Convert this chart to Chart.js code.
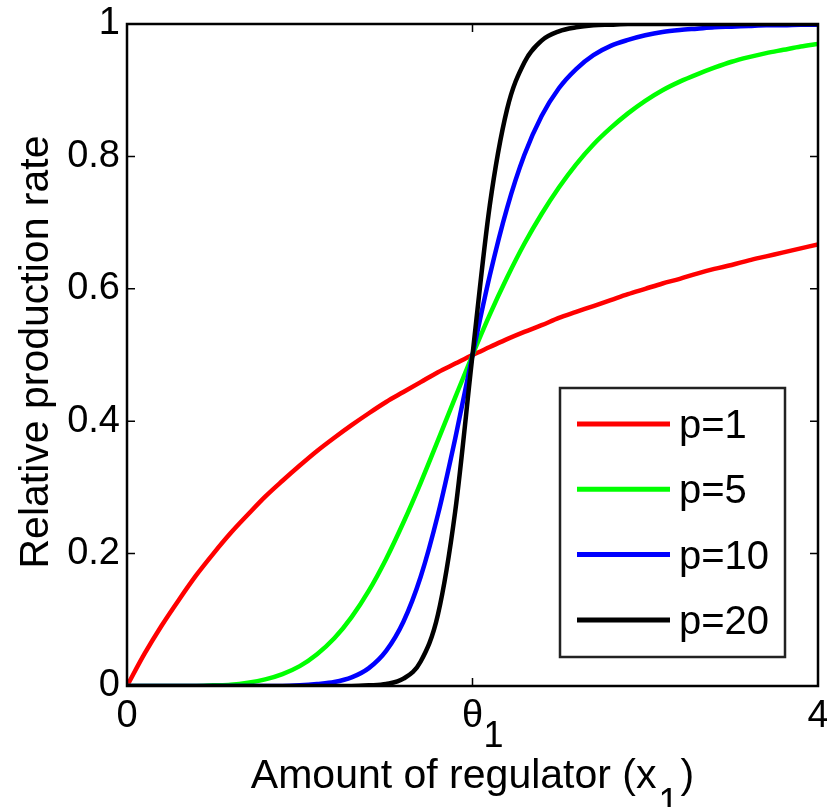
<!DOCTYPE html>
<html>
<head>
<meta charset="utf-8">
<script src="https://cdn.jsdelivr.net/npm/chart.js@4.4.1/dist/chart.umd.min.js"></script>
<style>
  html, body { margin: 0; padding: 0; background: #fff; }
  #wrap { width: 827px; height: 807px; }
</style>
</head>
<body>
<div id="wrap"><canvas id="hill-chart" width="827" height="807"></canvas></div>
<script>
// amount of regulator, theta_1 = 2
var xValues = [0, 0.1, 0.2, 0.3, 0.4, 0.5, 0.6, 0.7, 0.8, 0.9,
               1.0, 1.1, 1.2, 1.3, 1.4, 1.5, 1.6, 1.7, 1.8, 1.9,
               2.0, 2.1, 2.2, 2.3, 2.4, 2.5, 2.6, 2.7, 2.8, 2.9,
               3.0, 3.1, 3.2, 3.3, 3.4, 3.5, 3.6, 3.7, 3.8, 3.9, 4.0];

var p1Values = [0, 0.048, 0.091, 0.130, 0.167, 0.200, 0.231, 0.259, 0.286, 0.310,
                0.333, 0.355, 0.375, 0.394, 0.412, 0.429, 0.444, 0.459, 0.474, 0.487,
                0.500, 0.512, 0.524, 0.535, 0.545, 0.556, 0.565, 0.574, 0.583, 0.592,
                0.600, 0.608, 0.615, 0.623, 0.630, 0.636, 0.643, 0.649, 0.655, 0.661, 0.667];

var p5Values = [0, 0, 0, 0, 0, 0.001, 0.002, 0.005, 0.010, 0.018,
                0.030, 0.048, 0.072, 0.104, 0.144, 0.192, 0.247, 0.307, 0.371, 0.436,
                0.500, 0.561, 0.617, 0.668, 0.713, 0.753, 0.788, 0.818, 0.843, 0.865,
                0.884, 0.900, 0.913, 0.924, 0.934, 0.943, 0.950, 0.956, 0.961, 0.966, 0.970];

var p10Values = [0, 0, 0, 0, 0, 0, 0, 0, 0, 0,
                 0.001, 0.003, 0.006, 0.013, 0.027, 0.053, 0.097, 0.165, 0.259, 0.374,
                 0.500, 0.620, 0.722, 0.802, 0.861, 0.903, 0.932, 0.953, 0.967, 0.976,
                 0.983, 0.988, 0.991, 0.993, 0.995, 0.996, 0.997, 0.998, 0.998, 0.999, 0.999];

var p20Values = [0, 0, 0, 0, 0, 0, 0, 0, 0, 0,
                 0, 0, 0, 0, 0.001, 0.003, 0.011, 0.037, 0.108, 0.264,
                 0.500, 0.726, 0.871, 0.942, 0.975, 0.989, 0.995, 0.998, 0.999, 1.000,
                 1.000, 1.000, 1.000, 1.000, 1.000, 1.000, 1.000, 1.000, 1.000, 1.000, 1.000];

var seriesLabels = ['p=1', 'p=5', 'p=10', 'p=20'];
var seriesColors = ['#ff0000', '#00ff00', '#0000ff', '#000000'];

var xTicks = [0, 2, 4];
var xTickLabels = ['0', 'θ', '4'];
var xTickSubs = ['', '1', ''];
var yTicks = [0, 0.2, 0.4, 0.6, 0.8, 1];

var xTitle = 'Amount of regulator (x';
var xTitleSub = '1';
var yTitle = 'Relative production rate';

var FONT = '"Liberation Sans", Arial, Helvetica, sans-serif';

function toPoints(ys) {
    return xValues.map(function (x, i) { return { x: x, y: ys[i] }; });
}

function makeDataset(i, ys) {
    return {
        label: seriesLabels[i],
        data: toPoints(ys),
        borderColor: seriesColors[i],
        backgroundColor: seriesColors[i],
        borderWidth: 4.5,
        pointRadius: 0,
        fill: false,
        cubicInterpolationMode: 'monotone',
        order: 3 - i
    };
}

// frame, inward ticks, subscripts, titles and the boxed legend
var decorations = {
    id: 'decorations',
    afterDraw: function (chart) {
        var ctx = chart.ctx;
        var a = chart.chartArea;
        var xs = chart.scales.x;
        var ys = chart.scales.y;
        ctx.save();

        ctx.strokeStyle = '#000';
        ctx.lineWidth = 2.5;
        ctx.strokeRect(a.left, a.top, a.right - a.left, a.bottom - a.top);

        ctx.lineWidth = 1.5;
        ctx.beginPath();
        yTicks.forEach(function (v) {
            var py = ys.getPixelForValue(v);
            ctx.moveTo(a.left, py); ctx.lineTo(a.left + 8, py);
            ctx.moveTo(a.right, py); ctx.lineTo(a.right - 8, py);
        });
        xTicks.forEach(function (v) {
            var px = xs.getPixelForValue(v);
            ctx.moveTo(px, a.bottom); ctx.lineTo(px, a.bottom - 8);
            ctx.moveTo(px, a.top); ctx.lineTo(px, a.top + 8);
        });
        ctx.stroke();

        ctx.fillStyle = '#000';
        ctx.textAlign = 'left';
        ctx.textBaseline = 'alphabetic';

        // subscript on the theta tick
        ctx.font = '36px ' + FONT;
        xTicks.forEach(function (v, i) {
            if (xTickSubs[i]) {
                ctx.fillText(xTickSubs[i], xs.getPixelForValue(v) + 11, a.bottom + 61);
            }
        });

        // x title with subscript
        ctx.font = '41px ' + FONT;
        var wMain = ctx.measureText(xTitle).width;
        var wClose = ctx.measureText(')').width;
        ctx.font = '36px ' + FONT;
        var wSub = ctx.measureText(xTitleSub).width;
        var total = wMain + 4 + wSub + wClose;
        var x0 = (a.left + a.right) / 2 - total / 2;
        ctx.font = '41px ' + FONT;
        ctx.fillText(xTitle, x0, 788);
        ctx.fillText(')', x0 + wMain + 4 + wSub, 788);
        ctx.font = '36px ' + FONT;
        ctx.fillText(xTitleSub, x0 + wMain + 2, 814);

        // y title
        ctx.font = '41px ' + FONT;
        ctx.translate(48, 352);
        ctx.rotate(-Math.PI / 2);
        ctx.textAlign = 'center';
        ctx.fillText(yTitle, 0, 0);
        ctx.setTransform(1, 0, 0, 1, 0, 0);

        // legend box
        ctx.fillStyle = '#fff';
        ctx.fillRect(560, 388, 225, 269);
        ctx.strokeStyle = '#222';
        ctx.lineWidth = 2.5;
        ctx.strokeRect(560, 388, 225, 269);
        ctx.textAlign = 'left';
        ctx.textBaseline = 'middle';
        ctx.font = '40px ' + FONT;
        chart.data.datasets.forEach(function (ds, i) {
            var ly = 424 + i * 65.3;
            ctx.strokeStyle = ds.borderColor;
            ctx.lineWidth = 5;
            ctx.beginPath();
            ctx.moveTo(577, ly);
            ctx.lineTo(670, ly);
            ctx.stroke();
            ctx.fillStyle = '#000';
            ctx.fillText(ds.label, 679, ly + 3);
        });

        ctx.restore();
    }
};

var ctx = document.getElementById('hill-chart');
var chart = new Chart(ctx, {
    type: 'line',
    data: {
        datasets: [
            makeDataset(0, p1Values),
            makeDataset(1, p5Values),
            makeDataset(2, p10Values),
            makeDataset(3, p20Values)
        ]
    },
    options: {
        responsive: false,
        animation: false,
        layout: { padding: { top: 24, right: 9, left: 0, bottom: 0 } },
        plugins: {
            legend: { display: false },
            tooltip: { enabled: false }
        },
        scales: {
            x: {
                type: 'linear',
                min: 0,
                max: 4,
                afterBuildTicks: function (s) {
                    s.ticks = xTicks.map(function (v) { return { value: v }; });
                },
                afterFit: function (s) {
                    s.height = 121;
                    s.paddingLeft = 0;
                    s.paddingRight = 0;
                },
                ticks: {
                    autoSkip: false,
                    maxRotation: 0,
                    padding: 8,
                    color: '#000',
                    font: { size: 38, family: FONT },
                    callback: function (v, i) { return xTickLabels[i]; }
                },
                grid: { display: false, drawTicks: false },
                border: { display: false }
            },
            y: {
                min: 0,
                max: 1,
                afterBuildTicks: function (s) {
                    s.ticks = yTicks.map(function (v) { return { value: v }; });
                },
                afterFit: function (s) {
                    s.width = 127;
                    s.paddingTop = 0;
                    s.paddingBottom = 0;
                },
                ticks: {
                    padding: 7,
                    color: '#000',
                    font: { size: 38, family: FONT },
                    callback: function (v) { return String(v); }
                },
                grid: { display: false, drawTicks: false },
                border: { display: false }
            }
        }
    },
    plugins: [decorations]
});
</script>
</body>
</html>
